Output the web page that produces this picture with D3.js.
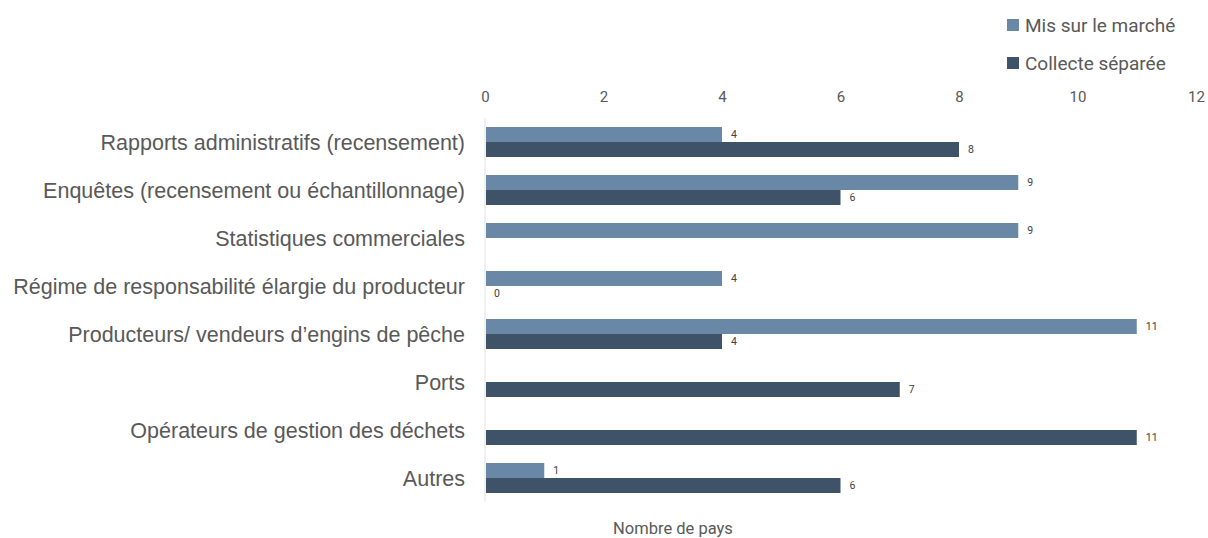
<!DOCTYPE html>
<html>
<head>
<meta charset="utf-8">
<script src="https://cdn.jsdelivr.net/npm/d3@7"></script>
<style>
  body { margin: 0; background: #fff; }
  svg { display: block; }
</style>
</head>
<body>
<svg id="chart" width="1208" height="538"></svg>
<script>
// Data
const categories = [
  "Rapports administratifs (recensement)",
  "Enquêtes (recensement ou échantillonnage)",
  "Statistiques commerciales",
  "Régime de responsabilité élargie du producteur",
  "Producteurs/ vendeurs d’engins de pêche",
  "Ports",
  "Opérateurs de gestion des déchets",
  "Autres"
];
const seriesNames = ["Mis sur le marché", "Collecte séparée"];
const misSurLeMarche = [4, 9, 9, 4, 11, null, null, 1];
const collecteSeparee = [8, 6, null, 0, 4, 7, 11, 6];
const xTicks = [0, 2, 4, 6, 8, 10, 12];

const colors = ["#6888a5", "#3e5268"];
const seriesValues = [misSurLeMarche, collecteSeparee];

const svg = d3.select("#chart");

// Scales
const xScale = d3.scaleLinear().domain([0, 12]).range([485, 1196]);
const yScale = d3.scaleBand().domain(categories).range([118, 502]);
const inner = d3.scaleBand().domain(seriesNames)
                .range([yScale.bandwidth() / 2 - 15, yScale.bandwidth() / 2 + 15]);

// Top axis
const xAxis = d3.axisTop(xScale).tickValues(xTicks).tickSize(0).tickPadding(0);
const gx = svg.append("g")
              .attr("transform", "translate(0, 102)")
              .call(xAxis);
gx.select(".domain").remove();
gx.selectAll("text")
  .attr("fill", "#595959")
  .style("font-family", "Roboto, sans-serif")
  .style("font-size", "15px");

// Vertical axis line
svg.append("line")
   .attr("x1", xScale(0)).attr("x2", xScale(0))
   .attr("y1", 118).attr("y2", 502)
   .attr("stroke", "#e3e3e3")
   .attr("stroke-width", 1);

// Category labels
svg.append("g").selectAll("text")
   .data(categories)
   .join("text")
     .attr("x", 465)
     .attr("y", d => yScale(d) + yScale.bandwidth() / 2)
     .attr("dy", "0.35em")
     .attr("text-anchor", "end")
     .attr("fill", "#595959")
     .style("font-family", "'Liberation Sans', Arial, sans-serif")
     .style("font-size", "21.5px")
     .text(d => d);

// Bars
seriesNames.forEach(function(name, s) {
  const rows = categories.map((c, i) => ({ cat: c, value: seriesValues[s][i] }))
                         .filter(d => d.value !== null);
  const g = svg.append("g");
  g.selectAll("rect")
   .data(rows)
   .join("rect")
     .attr("x", xScale(0) + 1)
     .attr("y", d => yScale(d.cat) + inner(name))
     .attr("width", d => Math.max(0, xScale(d.value) - xScale(0) - 1))
     .attr("height", inner.bandwidth())
     .attr("fill", colors[s]);
  g.selectAll("text")
   .data(rows)
   .join("text")
     .attr("x", d => xScale(d.value) + 9)
     .attr("y", d => yScale(d.cat) + inner(name) + inner.bandwidth() / 2)
     .attr("dy", "0.35em")
     .attr("fill", "#404040")
     .style("font-family", "Roboto, sans-serif")
     .style("font-size", "10.5px")
     .text(d => d.value);
});

// Axis title
svg.append("text")
   .attr("x", 673)
   .attr("y", 534)
   .attr("text-anchor", "middle")
   .attr("fill", "#595959")
   .style("font-family", "Roboto, sans-serif")
   .style("font-size", "16.5px")
   .text("Nombre de pays");

// Legend
const legend = svg.append("g").selectAll("g")
                  .data(seriesNames)
                  .join("g")
                    .attr("transform", (d, i) => `translate(1007, ${25 + i * 38})`);
legend.append("rect")
      .attr("x", 0).attr("y", -6)
      .attr("width", 12).attr("height", 12)
      .attr("fill", (d, i) => colors[i]);
legend.append("text")
      .attr("x", 18)
      .attr("dy", "0.35em")
      .attr("fill", "#595959")
      .style("font-family", "Roboto, sans-serif")
      .style("font-size", "19px")
      .text(d => d);
</script>
</body>
</html>
